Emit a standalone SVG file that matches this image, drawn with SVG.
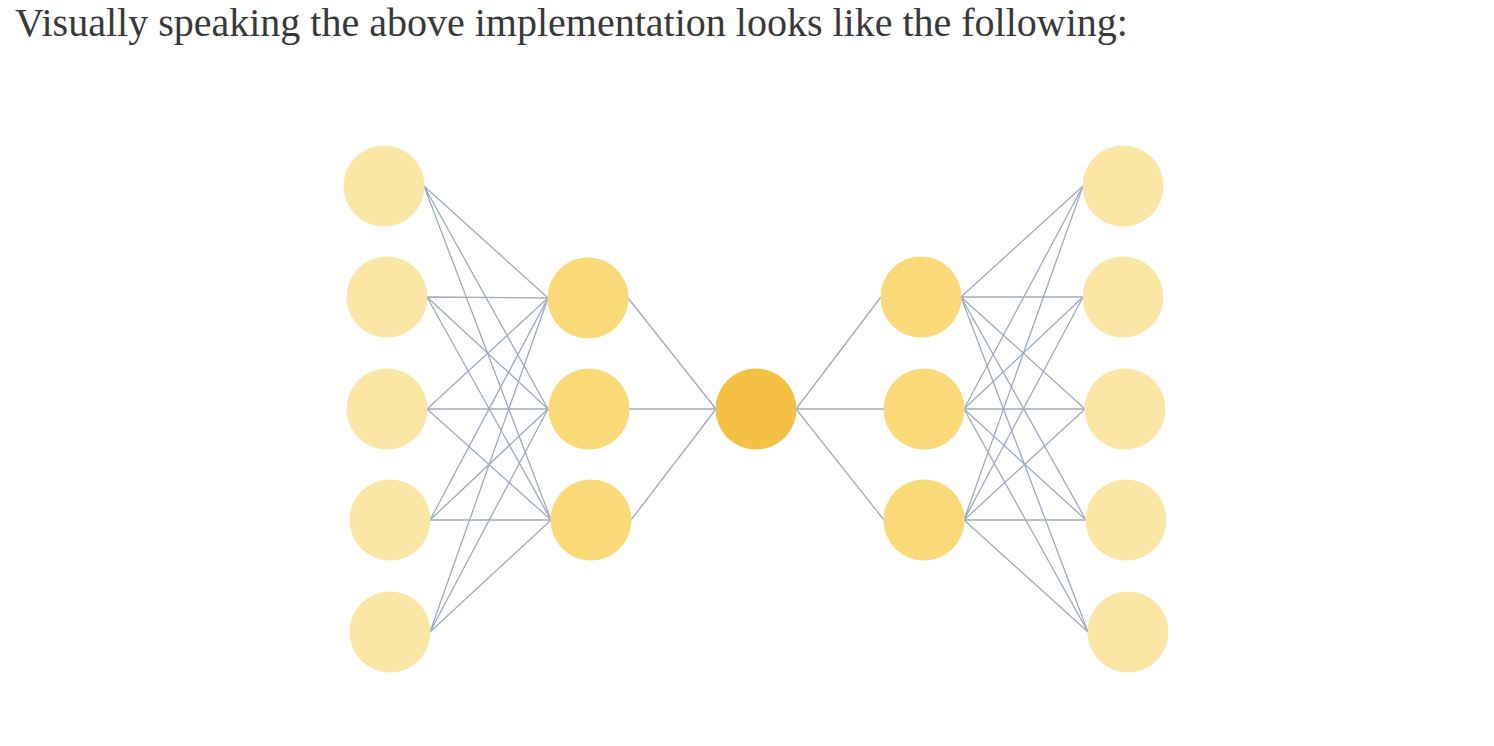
<svg xmlns="http://www.w3.org/2000/svg" width="1494" height="746" viewBox="0 0 1494 746">
<style>
.t{font-family:"Liberation Serif","Times New Roman",serif;font-size:40px;fill:#383838}
.e{stroke:#9eabbe;stroke-width:1.3;fill:none}
.in{fill:#fbe6a6}
.hd{fill:#f9d978}
.ct{fill:#f5c144}
</style>
<rect width="1494" height="746" fill="#ffffff"/>
<text class="t" x="15" y="36">Visually speaking the above implementation looks like the following:</text>
<g id="connectors" class="e">
<path d="M424,186L548,298M424,186L548,409M424,186L551,520"/>
<path d="M427,297L548,298M427,297L548,409M427,297L551,520"/>
<path d="M427,409L548,298M427,409L548,409M427,409L551,520"/>
<path d="M430,520L548,298M430,520L548,409M430,520L551,520"/>
<path d="M430,632L548,298M430,632L548,409M430,632L551,520"/>
<path d="M628,298L716,409M629,409L716,409M631,520L716,409"/>
<path d="M796,409L881,297M796,409L884,409M796,409L884,520"/>
<path d="M961,297L1083,186M961,297L1083,297M961,297L1085,409M961,297L1086,520M961,297L1088,632"/>
<path d="M964,409L1083,186M964,409L1083,297M964,409L1085,409M964,409L1086,520M964,409L1088,632"/>
<path d="M964,520L1083,186M964,520L1083,297M964,520L1085,409M964,520L1086,520M964,520L1088,632"/>
</g>
<g id="in1"><circle class="in" cx="384" cy="186" r="40.5"/></g>
<g id="in2"><circle class="in" cx="387" cy="297" r="40.5"/></g>
<g id="in3"><circle class="in" cx="387" cy="409" r="40.5"/></g>
<g id="in4"><circle class="in" cx="390" cy="520" r="40.5"/></g>
<g id="in5"><circle class="in" cx="390" cy="632" r="40.5"/></g>
<g id="h1a"><circle class="hd" cx="588" cy="298" r="40.5"/></g>
<g id="h1b"><circle class="hd" cx="589" cy="409" r="40.5"/></g>
<g id="h1c"><circle class="hd" cx="591" cy="520" r="40.5"/></g>
<g id="code"><circle class="ct" cx="756" cy="409" r="40.5"/></g>
<g id="h2a"><circle class="hd" cx="921" cy="297" r="40.5"/></g>
<g id="h2b"><circle class="hd" cx="924" cy="409" r="40.5"/></g>
<g id="h2c"><circle class="hd" cx="924" cy="520" r="40.5"/></g>
<g id="out1"><circle class="in" cx="1123" cy="186" r="40.5"/></g>
<g id="out2"><circle class="in" cx="1123" cy="297" r="40.5"/></g>
<g id="out3"><circle class="in" cx="1125" cy="409" r="40.5"/></g>
<g id="out4"><circle class="in" cx="1126" cy="520" r="40.5"/></g>
<g id="out5"><circle class="in" cx="1128" cy="632" r="40.5"/></g>
</svg>
